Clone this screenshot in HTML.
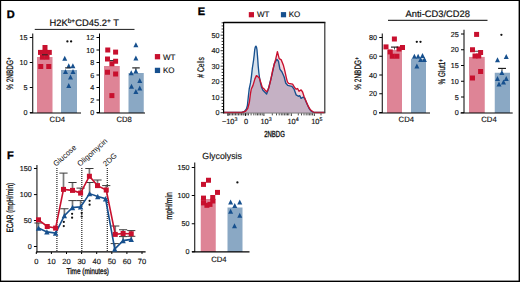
<!DOCTYPE html><html><head><meta charset="utf-8"><style>html,body{margin:0;padding:0;background:#fff;}svg{display:block;}text{font-family:"Liberation Sans", sans-serif;text-rendering:geometricPrecision;}</style></head><body>
<svg width="520" height="282" viewBox="0 0 520 282">
<rect x="0" y="0" width="520" height="282" fill="#fff"/>
<text x="6.8" y="18.1" font-size="11" text-anchor="start" font-weight="bold" fill="#000" stroke="#000" stroke-width="0.35">D</text>
<text x="49.5" y="26.4" font-size="9.4" text-anchor="start" font-weight="normal" fill="#111" stroke="#111" stroke-width="0.2">H2K<tspan font-size="6.5" dy="-3.3">b+</tspan><tspan dy="3.3">CD45.2</tspan><tspan font-size="6.5" dy="-3.3">+</tspan><tspan dy="3.3"> T</tspan></text>
<line x1="34.75" y1="29.4" x2="134.5" y2="29.4" stroke="#000" stroke-width="0.9" />
<rect x="37" y="57" width="15.5" height="56" fill="#de8496"/>
<rect x="61" y="70" width="16" height="43" fill="#8aa8c4"/>
<line x1="32.75" y1="33.5" x2="32.75" y2="113" stroke="#000" stroke-width="1" />
<line x1="29.75" y1="37.5" x2="32.75" y2="37.5" stroke="#000" stroke-width="1" />
<text x="27.55" y="40.0" font-size="7.2" text-anchor="end" font-weight="normal" fill="#111"  stroke="#111" stroke-width="0.15">15</text>
<line x1="29.75" y1="62.5" x2="32.75" y2="62.5" stroke="#000" stroke-width="1" />
<text x="27.55" y="65.0" font-size="7.2" text-anchor="end" font-weight="normal" fill="#111"  stroke="#111" stroke-width="0.15">10</text>
<line x1="29.75" y1="87.5" x2="32.75" y2="87.5" stroke="#000" stroke-width="1" />
<text x="27.55" y="90.0" font-size="7.2" text-anchor="end" font-weight="normal" fill="#111"  stroke="#111" stroke-width="0.15">5</text>
<line x1="29.75" y1="112.6" x2="32.75" y2="112.6" stroke="#000" stroke-width="1" />
<text x="27.55" y="115.1" font-size="7.2" text-anchor="end" font-weight="normal" fill="#111"  stroke="#111" stroke-width="0.15">0</text>
<line x1="30" y1="113" x2="81" y2="113" stroke="#000" stroke-width="1.2" />
<rect x="42.50" y="45.00" width="5" height="5" fill="#c8102e"/>
<rect x="38.00" y="49.90" width="5" height="5" fill="#c8102e"/>
<rect x="42.50" y="49.90" width="5" height="5" fill="#c8102e"/>
<rect x="46.80" y="49.90" width="5" height="5" fill="#c8102e"/>
<rect x="39.90" y="54.70" width="5" height="5" fill="#c8102e"/>
<rect x="44.50" y="54.70" width="5" height="5" fill="#c8102e"/>
<rect x="38.25" y="64.00" width="5" height="5" fill="#c8102e"/>
<rect x="46.25" y="64.00" width="5" height="5" fill="#c8102e"/>
<line x1="42" y1="54.8" x2="47.8" y2="54.8" stroke="#222" stroke-width="1" />
<path d="M64.75 55.70L67.25 60.70L62.25 60.70Z" fill="#17508e"/>
<path d="M68.75 63.30L71.25 68.30L66.25 68.30Z" fill="#17508e"/>
<path d="M72.90 63.30L75.40 68.30L70.40 68.30Z" fill="#17508e"/>
<path d="M65.50 69.10L68.00 74.10L63.00 74.10Z" fill="#17508e"/>
<path d="M73.00 69.10L75.50 74.10L70.50 74.10Z" fill="#17508e"/>
<path d="M70.50 74.50L73.00 79.50L68.00 79.50Z" fill="#17508e"/>
<path d="M68.75 83.10L71.25 88.10L66.25 88.10Z" fill="#17508e"/>
<line x1="65" y1="67.9" x2="70.5" y2="67.9" stroke="#222" stroke-width="1" />
<circle cx="67.4" cy="41.4" r="1.15" fill="#111"/>
<circle cx="71.1" cy="41.4" r="1.15" fill="#111"/>
<text x="57.3" y="122" font-size="7.7" text-anchor="middle" font-weight="normal" fill="#111"  stroke="#111" stroke-width="0.15">CD4</text>
<rect x="104" y="66" width="15.75" height="47" fill="#de8496"/>
<rect x="128.5" y="73" width="15.25" height="40" fill="#8aa8c4"/>
<line x1="99.5" y1="33.5" x2="99.5" y2="113" stroke="#000" stroke-width="1" />
<line x1="96.5" y1="37.5" x2="99.5" y2="37.5" stroke="#000" stroke-width="1" />
<text x="94.3" y="40.0" font-size="7.2" text-anchor="end" font-weight="normal" fill="#111"  stroke="#111" stroke-width="0.15">12</text>
<line x1="96.5" y1="50" x2="99.5" y2="50" stroke="#000" stroke-width="1" />
<text x="94.3" y="52.5" font-size="7.2" text-anchor="end" font-weight="normal" fill="#111"  stroke="#111" stroke-width="0.15">10</text>
<line x1="96.5" y1="62.5" x2="99.5" y2="62.5" stroke="#000" stroke-width="1" />
<text x="94.3" y="65.0" font-size="7.2" text-anchor="end" font-weight="normal" fill="#111"  stroke="#111" stroke-width="0.15">8</text>
<line x1="96.5" y1="75" x2="99.5" y2="75" stroke="#000" stroke-width="1" />
<text x="94.3" y="77.5" font-size="7.2" text-anchor="end" font-weight="normal" fill="#111"  stroke="#111" stroke-width="0.15">6</text>
<line x1="96.5" y1="87.5" x2="99.5" y2="87.5" stroke="#000" stroke-width="1" />
<text x="94.3" y="90.0" font-size="7.2" text-anchor="end" font-weight="normal" fill="#111"  stroke="#111" stroke-width="0.15">4</text>
<line x1="96.5" y1="100" x2="99.5" y2="100" stroke="#000" stroke-width="1" />
<text x="94.3" y="102.5" font-size="7.2" text-anchor="end" font-weight="normal" fill="#111"  stroke="#111" stroke-width="0.15">2</text>
<line x1="96.5" y1="112.5" x2="99.5" y2="112.5" stroke="#000" stroke-width="1" />
<text x="94.3" y="115.0" font-size="7.2" text-anchor="end" font-weight="normal" fill="#111"  stroke="#111" stroke-width="0.15">0</text>
<line x1="96.8" y1="113" x2="145" y2="113" stroke="#000" stroke-width="1.2" />
<rect x="105.25" y="47.50" width="5" height="5" fill="#c8102e"/>
<rect x="113.10" y="49.60" width="5" height="5" fill="#c8102e"/>
<rect x="105.00" y="56.50" width="5" height="5" fill="#c8102e"/>
<rect x="113.10" y="58.75" width="5" height="5" fill="#c8102e"/>
<rect x="109.40" y="61.25" width="5" height="5" fill="#c8102e"/>
<rect x="105.00" y="69.75" width="5" height="5" fill="#c8102e"/>
<rect x="113.10" y="71.50" width="5" height="5" fill="#c8102e"/>
<rect x="109.40" y="93.10" width="5" height="5" fill="#c8102e"/>
<line x1="110" y1="60.6" x2="113.5" y2="60.6" stroke="#222" stroke-width="1" />
<path d="M135.90 42.25L138.40 47.25L133.40 47.25Z" fill="#17508e"/>
<path d="M135.90 55.60L138.40 60.60L133.40 60.60Z" fill="#17508e"/>
<path d="M131.25 70.25L133.75 75.25L128.75 75.25Z" fill="#17508e"/>
<path d="M135.90 68.50L138.40 73.50L133.40 73.50Z" fill="#17508e"/>
<path d="M139.75 77.90L142.25 82.90L137.25 82.90Z" fill="#17508e"/>
<path d="M131.50 83.75L134.00 88.75L129.00 88.75Z" fill="#17508e"/>
<path d="M139.75 85.60L142.25 90.60L137.25 90.60Z" fill="#17508e"/>
<path d="M135.90 89.00L138.40 94.00L133.40 94.00Z" fill="#17508e"/>
<line x1="132.25" y1="67.9" x2="139.75" y2="67.9" stroke="#111" stroke-width="1.1" />
<line x1="135.9" y1="67.9" x2="135.9" y2="70" stroke="#222" stroke-width="0.8" />
<text x="124.2" y="122" font-size="7.7" text-anchor="middle" font-weight="normal" fill="#111"  stroke="#111" stroke-width="0.15">CD8</text>
<rect x="154.85" y="54.05" width="5.3" height="5.3" fill="#c8102e"/>
<text x="162.9" y="59.6" font-size="8" text-anchor="start" font-weight="normal" fill="#111"  stroke="#111" stroke-width="0.15">WT</text>
<rect x="154.85" y="67.75" width="5.3" height="5.3" fill="#17508e"/>
<text x="162.9" y="73.2" font-size="8" text-anchor="start" font-weight="normal" fill="#111"  stroke="#111" stroke-width="0.15">KO</text>
<text x="0" y="0" font-size="9.4" text-anchor="middle" font-weight="normal" fill="#111" stroke="#111" stroke-width="0.25" transform="translate(13.3 73.6) rotate(-90) scale(0.69 1)">% 2NBDG<tspan font-size="6.3" dy="-2.5">+</tspan></text>
<text x="197.8" y="15.4" font-size="11" text-anchor="start" font-weight="bold" fill="#000" stroke="#000" stroke-width="0.35">E</text>
<rect x="248.80" y="12.10" width="5.2" height="5.2" fill="#c8102e"/>
<text x="256.9" y="17.2" font-size="8" text-anchor="start" font-weight="normal" fill="#111"  stroke="#111" stroke-width="0.15">WT</text>
<rect x="280.90" y="12.10" width="5.2" height="5.2" fill="#17508e"/>
<text x="288.75" y="17.2" font-size="8" text-anchor="start" font-weight="normal" fill="#111"  stroke="#111" stroke-width="0.15">KO</text>
<path d="M223.75 112.40L241.40 112.30L244.30 111.60L246.40 109.00L247.40 105.50L248.30 97.00L249.20 89.00L250.50 82.90L251.50 75.90L252.30 68.50L253.60 60.00L254.20 55.00L254.70 50.00L255.30 47.00L255.90 46.10L256.50 47.00L257.00 50.00L257.40 55.00L257.80 60.00L258.20 66.00L258.90 73.00L259.50 77.50L260.40 82.50L261.60 87.30L262.90 90.30L264.90 92.30L266.60 94.00L268.10 90.00L270.10 82.00L272.20 73.80L274.30 63.60L276.80 59.30L278.50 61.30L279.90 69.10L282.00 72.00L284.20 77.00L285.70 83.00L287.70 85.40L291.90 86.30L294.10 89.20L296.20 94.90L298.30 96.30L299.70 95.60L301.10 98.40L303.30 97.00L304.70 98.40L306.80 103.40L309.00 108.30L311.10 111.20L313.90 112.30L324.60 112.40L324.6 113L223.75 113Z" fill="#d7e1ec"/>
<path d="M223.75 112.50L242.10 112.50L245.70 111.20L247.80 108.30L249.40 102.00L250.40 94.00L251.30 89.00L252.90 85.60L254.90 78.90L256.40 75.60L257.90 76.60L259.40 78.20L260.90 82.90L262.40 87.60L263.90 88.70L265.40 90.60L266.80 91.80L268.80 87.90L270.80 79.90L272.40 71.50L273.70 66.30L275.70 59.20L277.40 51.60L279.20 58.60L281.30 59.90L283.50 65.60L284.90 71.20L286.30 77.60L287.40 81.80L288.60 83.30L292.60 84.20L294.80 87.80L296.20 89.20L297.60 88.50L299.00 91.30L301.10 89.90L302.60 92.00L304.00 96.30L306.10 101.20L308.20 106.20L310.40 109.80L313.20 112.10L316.00 112.50L324.60 112.50L324.6 113L223.75 113Z" fill="#f3d6dd"/>
<path d="M223.75 112.50L224.00 112.50L224.25 112.50L224.50 112.50L224.75 112.50L225.00 112.50L225.25 112.50L225.50 112.50L225.75 112.50L226.00 112.50L226.25 112.50L226.50 112.50L226.75 112.50L227.00 112.50L227.25 112.50L227.50 112.50L227.75 112.50L228.00 112.50L228.25 112.50L228.50 112.50L228.75 112.50L229.00 112.50L229.25 112.50L229.50 112.50L229.75 112.50L230.00 112.50L230.25 112.50L230.50 112.50L230.75 112.50L231.00 112.50L231.25 112.50L231.50 112.50L231.75 112.50L232.00 112.50L232.25 112.50L232.50 112.50L232.75 112.50L233.00 112.50L233.25 112.50L233.50 112.50L233.75 112.50L234.00 112.50L234.25 112.50L234.50 112.50L234.75 112.50L235.00 112.50L235.25 112.50L235.50 112.50L235.75 112.50L236.00 112.50L236.25 112.50L236.50 112.50L236.75 112.50L237.00 112.50L237.25 112.50L237.50 112.50L237.75 112.50L238.00 112.50L238.25 112.50L238.50 112.50L238.75 112.50L239.00 112.50L239.25 112.50L239.50 112.50L239.75 112.50L240.00 112.50L240.25 112.50L240.50 112.50L240.75 112.50L241.00 112.50L241.25 112.50L241.40 112.50L241.50 112.50L241.75 112.50L242.00 112.50L242.10 112.50L242.25 112.45L242.50 112.36L242.75 112.27L243.00 112.17L243.25 112.08L243.50 111.99L243.75 111.90L244.00 111.81L244.25 111.72L244.30 111.71L244.50 111.63L244.75 111.54L245.00 111.45L245.25 111.36L245.50 111.27L245.70 111.20L245.75 111.13L246.00 110.79L246.25 110.44L246.40 110.23L246.50 110.10L246.75 109.75L247.00 109.40L247.25 109.06L247.40 108.85L247.50 108.71L247.75 108.37L247.80 108.30L248.00 107.51L248.25 106.53L248.30 106.33L248.50 105.54L248.75 104.56L249.00 103.58L249.20 102.79L249.25 102.59L249.40 102.00L249.50 101.20L249.75 99.20L250.00 97.20L250.25 95.20L250.40 94.00L250.50 93.44L250.75 92.06L251.00 90.67L251.25 89.28L251.30 89.00L251.50 88.58L251.75 88.04L252.00 87.51L252.25 86.98L252.30 86.87L252.50 86.45L252.75 85.92L252.90 85.60L253.00 85.27L253.25 84.43L253.50 83.59L253.60 83.26L253.75 82.75L254.00 81.92L254.20 81.25L254.25 81.08L254.50 80.24L254.70 79.57L254.75 79.40L254.90 78.90L255.00 78.68L255.25 78.13L255.30 78.02L255.50 77.58L255.75 77.03L255.90 76.70L256.00 76.48L256.25 75.93L256.40 75.60L256.50 75.67L256.75 75.83L257.00 76.00L257.25 76.17L257.40 76.27L257.50 76.33L257.75 76.50L257.80 76.53L257.90 76.60L258.00 76.71L258.20 76.92L258.25 76.97L258.50 77.24L258.75 77.51L258.90 77.67L259.00 77.77L259.25 78.04L259.40 78.20L259.50 78.51L259.75 79.30L260.00 80.28L260.25 81.67L260.40 82.50L260.50 82.90L260.75 83.90L260.90 84.50L261.00 84.90L261.25 85.90L261.50 86.90L261.60 87.30L261.75 87.65L262.00 88.22L262.25 88.80L262.40 89.15L262.50 89.38L262.75 89.95L262.90 90.30L263.00 90.40L263.25 90.65L263.50 90.90L263.75 91.15L263.90 91.30L264.00 91.40L264.25 91.65L264.50 91.90L264.75 92.15L264.90 92.30L265.00 92.40L265.25 92.65L265.40 92.80L265.50 92.90L265.75 93.15L266.00 93.40L266.25 93.65L266.50 93.90L266.60 94.00L266.75 93.60L266.80 93.47L267.00 92.93L267.25 92.27L267.50 91.60L267.75 90.93L268.00 90.27L268.10 90.00L268.25 89.40L268.50 88.49L268.75 88.00L268.80 87.90L269.00 87.10L269.25 86.10L269.50 85.10L269.75 84.10L270.00 83.10L270.10 82.70L270.25 82.10L270.50 81.10L270.75 80.10L270.80 79.90L271.00 78.85L271.25 77.54L271.50 76.53L271.75 75.56L272.00 74.58L272.20 73.80L272.25 73.56L272.40 72.83L272.50 72.34L272.75 71.13L273.00 69.91L273.25 68.70L273.50 67.49L273.70 66.51L273.75 66.27L274.00 65.23L274.25 64.35L274.30 64.17L274.50 63.46L274.75 62.83L275.00 62.40L275.25 61.97L275.50 61.54L275.70 61.19L275.75 61.11L276.00 60.68L276.25 60.25L276.50 59.82L276.75 59.39L276.80 59.30L277.00 59.54L277.25 59.83L277.40 60.01L277.50 60.12L277.75 60.42L278.00 60.71L278.25 61.01L278.50 61.30L278.75 62.69L279.00 64.09L279.20 65.20L279.25 65.48L279.50 66.87L279.75 68.26L279.90 69.10L280.00 69.24L280.25 69.58L280.50 69.93L280.75 70.27L281.00 70.62L281.25 70.96L281.30 71.03L281.50 71.31L281.75 71.65L282.00 72.00L282.25 72.57L282.50 73.14L282.75 73.70L283.00 74.27L283.25 74.84L283.50 75.41L283.75 75.98L284.00 76.55L284.20 77.00L284.25 77.20L284.50 78.20L284.75 79.20L284.90 79.80L285.00 80.20L285.25 81.20L285.50 82.20L285.70 83.00L285.75 83.06L286.00 83.36L286.25 83.66L286.30 83.72L286.50 83.96L286.75 84.26L287.00 84.56L287.25 84.86L287.40 85.04L287.50 85.16L287.70 85.40L287.75 85.41L288.00 85.46L288.25 85.52L288.50 85.57L288.60 85.59L288.75 85.62L289.00 85.68L289.25 85.73L289.50 85.79L289.75 85.84L290.00 85.89L290.25 85.95L290.50 86.00L290.75 86.05L291.00 86.11L291.25 86.16L291.50 86.21L291.75 86.27L291.90 86.30L292.00 86.43L292.25 86.76L292.50 87.09L292.60 87.22L292.75 87.42L293.00 87.75L293.25 88.08L293.50 88.41L293.75 88.74L294.00 89.07L294.10 89.20L294.25 89.61L294.50 90.29L294.75 90.96L294.80 91.10L295.00 91.64L295.25 92.32L295.50 93.00L295.75 93.68L296.00 94.36L296.20 94.90L296.25 94.93L296.50 95.10L296.75 95.27L297.00 95.43L297.25 95.60L297.50 95.77L297.60 95.83L297.75 95.93L298.00 96.10L298.25 96.27L298.30 96.30L298.50 96.20L298.75 96.08L299.00 95.95L299.25 95.82L299.50 95.70L299.70 95.60L299.75 95.70L300.00 96.20L300.25 96.70L300.50 97.20L300.75 97.70L301.00 98.20L301.10 98.40L301.25 98.30L301.50 98.15L301.75 97.99L302.00 97.83L302.25 97.67L302.50 97.51L302.60 97.45L302.75 97.35L303.00 97.19L303.25 97.03L303.30 97.00L303.50 97.20L303.75 97.45L304.00 97.70L304.25 97.95L304.50 98.20L304.70 98.40L304.75 98.52L305.00 99.11L305.25 99.71L305.50 100.30L305.75 100.90L306.00 101.50L306.10 101.73L306.25 102.09L306.50 102.69L306.75 103.28L306.80 103.40L307.00 103.85L307.25 104.40L307.50 104.96L307.75 105.52L308.00 106.07L308.20 106.52L308.25 106.63L308.50 107.19L308.75 107.74L309.00 108.30L309.25 108.65L309.50 108.99L309.75 109.34L310.00 109.68L310.25 110.03L310.40 110.23L310.50 110.37L310.75 110.72L311.00 111.06L311.10 111.20L311.25 111.26L311.50 111.36L311.75 111.46L312.00 111.55L312.25 111.65L312.50 111.75L312.75 111.85L313.00 111.95L313.20 112.10L313.25 112.11L313.50 112.14L313.75 112.24L313.90 112.30L314.00 112.30L314.25 112.30L314.50 112.31L314.75 112.32L315.00 112.36L315.25 112.39L315.50 112.43L315.75 112.46L316.00 112.50L316.25 112.50L316.50 112.50L316.75 112.50L317.00 112.50L317.25 112.50L317.50 112.50L317.75 112.50L318.00 112.50L318.25 112.50L318.50 112.50L318.75 112.50L319.00 112.50L319.25 112.50L319.50 112.50L319.75 112.50L320.00 112.50L320.25 112.50L320.50 112.50L320.75 112.50L321.00 112.50L321.25 112.50L321.50 112.50L321.75 112.50L322.00 112.50L322.25 112.50L322.50 112.50L322.75 112.50L323.00 112.50L323.25 112.50L323.50 112.50L323.75 112.50L324.00 112.50L324.25 112.50L324.50 112.50L324.60 112.50L324.6 113L223.75 113Z" fill="#c5b1c4"/>
<path d="M223.75 112.40L241.40 112.30L244.30 111.60L246.40 109.00L247.40 105.50L248.30 97.00L249.20 89.00L250.50 82.90L251.50 75.90L252.30 68.50L253.60 60.00L254.20 55.00L254.70 50.00L255.30 47.00L255.90 46.10L256.50 47.00L257.00 50.00L257.40 55.00L257.80 60.00L258.20 66.00L258.90 73.00L259.50 77.50L260.40 82.50L261.60 87.30L262.90 90.30L264.90 92.30L266.60 94.00L268.10 90.00L270.10 82.00L272.20 73.80L274.30 63.60L276.80 59.30L278.50 61.30L279.90 69.10L282.00 72.00L284.20 77.00L285.70 83.00L287.70 85.40L291.90 86.30L294.10 89.20L296.20 94.90L298.30 96.30L299.70 95.60L301.10 98.40L303.30 97.00L304.70 98.40L306.80 103.40L309.00 108.30L311.10 111.20L313.90 112.30L324.60 112.40" fill="none" stroke="#17508e" stroke-width="1.35" stroke-linejoin="round"/>
<path d="M223.75 112.50L242.10 112.50L245.70 111.20L247.80 108.30L249.40 102.00L250.40 94.00L251.30 89.00L252.90 85.60L254.90 78.90L256.40 75.60L257.90 76.60L259.40 78.20L260.90 82.90L262.40 87.60L263.90 88.70L265.40 90.60L266.80 91.80L268.80 87.90L270.80 79.90L272.40 71.50L273.70 66.30L275.70 59.20L277.40 51.60L279.20 58.60L281.30 59.90L283.50 65.60L284.90 71.20L286.30 77.60L287.40 81.80L288.60 83.30L292.60 84.20L294.80 87.80L296.20 89.20L297.60 88.50L299.00 91.30L301.10 89.90L302.60 92.00L304.00 96.30L306.10 101.20L308.20 106.20L310.40 109.80L313.20 112.10L316.00 112.50L324.60 112.50" fill="none" stroke="#c8102e" stroke-width="1.35" stroke-linejoin="round"/>
<line x1="223.5" y1="22.5" x2="325.4" y2="22.5" stroke="#000" stroke-width="1.3" />
<line x1="324.8" y1="22.5" x2="324.8" y2="113" stroke="#333" stroke-width="1.2" />
<line x1="223.6" y1="22" x2="223.6" y2="113.5" stroke="#000" stroke-width="1.2" />
<line x1="223.5" y1="113.1" x2="325.4" y2="113.1" stroke="#555" stroke-width="0.7" />
<line x1="220.6" y1="112.7" x2="223.6" y2="112.7" stroke="#000" stroke-width="0.8" />
<line x1="221.6" y1="109.60000000000001" x2="223.6" y2="109.60000000000001" stroke="#000" stroke-width="0.8" />
<line x1="221.6" y1="106.5" x2="223.6" y2="106.5" stroke="#000" stroke-width="0.8" />
<line x1="221.6" y1="103.4" x2="223.6" y2="103.4" stroke="#000" stroke-width="0.8" />
<line x1="221.6" y1="100.3" x2="223.6" y2="100.3" stroke="#000" stroke-width="0.8" />
<line x1="220.6" y1="97.2" x2="223.6" y2="97.2" stroke="#000" stroke-width="0.8" />
<line x1="221.6" y1="94.1" x2="223.6" y2="94.1" stroke="#000" stroke-width="0.8" />
<line x1="221.6" y1="91.0" x2="223.6" y2="91.0" stroke="#000" stroke-width="0.8" />
<line x1="221.6" y1="87.9" x2="223.6" y2="87.9" stroke="#000" stroke-width="0.8" />
<line x1="221.6" y1="84.8" x2="223.6" y2="84.8" stroke="#000" stroke-width="0.8" />
<line x1="220.6" y1="81.7" x2="223.6" y2="81.7" stroke="#000" stroke-width="0.8" />
<line x1="221.6" y1="78.6" x2="223.6" y2="78.6" stroke="#000" stroke-width="0.8" />
<line x1="221.6" y1="75.5" x2="223.6" y2="75.5" stroke="#000" stroke-width="0.8" />
<line x1="221.6" y1="72.4" x2="223.6" y2="72.4" stroke="#000" stroke-width="0.8" />
<line x1="221.6" y1="69.30000000000001" x2="223.6" y2="69.30000000000001" stroke="#000" stroke-width="0.8" />
<line x1="220.6" y1="66.2" x2="223.6" y2="66.2" stroke="#000" stroke-width="0.8" />
<line x1="221.6" y1="63.1" x2="223.6" y2="63.1" stroke="#000" stroke-width="0.8" />
<line x1="221.6" y1="60.0" x2="223.6" y2="60.0" stroke="#000" stroke-width="0.8" />
<line x1="221.6" y1="56.9" x2="223.6" y2="56.9" stroke="#000" stroke-width="0.8" />
<line x1="221.6" y1="53.800000000000004" x2="223.6" y2="53.800000000000004" stroke="#000" stroke-width="0.8" />
<line x1="220.6" y1="50.7" x2="223.6" y2="50.7" stroke="#000" stroke-width="0.8" />
<line x1="221.6" y1="47.599999999999994" x2="223.6" y2="47.599999999999994" stroke="#000" stroke-width="0.8" />
<line x1="221.6" y1="44.5" x2="223.6" y2="44.5" stroke="#000" stroke-width="0.8" />
<line x1="221.6" y1="41.400000000000006" x2="223.6" y2="41.400000000000006" stroke="#000" stroke-width="0.8" />
<line x1="221.6" y1="38.3" x2="223.6" y2="38.3" stroke="#000" stroke-width="0.8" />
<line x1="220.6" y1="35.2" x2="223.6" y2="35.2" stroke="#000" stroke-width="0.8" />
<line x1="221.6" y1="32.099999999999994" x2="223.6" y2="32.099999999999994" stroke="#000" stroke-width="0.8" />
<line x1="221.6" y1="29.0" x2="223.6" y2="29.0" stroke="#000" stroke-width="0.8" />
<line x1="221.6" y1="25.900000000000006" x2="223.6" y2="25.900000000000006" stroke="#000" stroke-width="0.8" />
<line x1="221.6" y1="22.799999999999997" x2="223.6" y2="22.799999999999997" stroke="#000" stroke-width="0.8" />
<text x="219.6" y="115.2" font-size="7.2" text-anchor="end" font-weight="normal" fill="#111"  stroke="#111" stroke-width="0.15">0</text>
<text x="219.6" y="99.7" font-size="7.2" text-anchor="end" font-weight="normal" fill="#111"  stroke="#111" stroke-width="0.15">10</text>
<text x="219.6" y="84.2" font-size="7.2" text-anchor="end" font-weight="normal" fill="#111"  stroke="#111" stroke-width="0.15">20</text>
<text x="219.6" y="68.7" font-size="7.2" text-anchor="end" font-weight="normal" fill="#111"  stroke="#111" stroke-width="0.15">30</text>
<text x="219.6" y="53.2" font-size="7.2" text-anchor="end" font-weight="normal" fill="#111"  stroke="#111" stroke-width="0.15">40</text>
<text x="219.6" y="37.7" font-size="7.2" text-anchor="end" font-weight="normal" fill="#111"  stroke="#111" stroke-width="0.15">50</text>
<line x1="228" y1="113.4" x2="228" y2="115.4" stroke="#000" stroke-width="0.7" />
<line x1="229.5" y1="113.4" x2="229.5" y2="115.4" stroke="#000" stroke-width="0.7" />
<line x1="231" y1="113.4" x2="231" y2="115.4" stroke="#000" stroke-width="0.7" />
<line x1="232.5" y1="113.4" x2="232.5" y2="115.4" stroke="#000" stroke-width="0.7" />
<line x1="234" y1="113.4" x2="234" y2="115.4" stroke="#000" stroke-width="0.7" />
<line x1="235.5" y1="113.4" x2="235.5" y2="115.4" stroke="#000" stroke-width="0.7" />
<line x1="237" y1="113.4" x2="237" y2="115.4" stroke="#000" stroke-width="0.7" />
<line x1="238.5" y1="113.4" x2="238.5" y2="115.4" stroke="#000" stroke-width="0.7" />
<line x1="240" y1="113.4" x2="240" y2="115.4" stroke="#000" stroke-width="0.7" />
<line x1="241.5" y1="113.4" x2="241.5" y2="115.4" stroke="#000" stroke-width="0.7" />
<line x1="243" y1="113.4" x2="243" y2="115.4" stroke="#000" stroke-width="0.7" />
<line x1="244" y1="113.4" x2="244" y2="115.4" stroke="#000" stroke-width="0.7" />
<line x1="245.5" y1="113.4" x2="245.5" y2="115.4" stroke="#000" stroke-width="0.7" />
<line x1="247" y1="113.4" x2="247" y2="115.4" stroke="#000" stroke-width="0.7" />
<line x1="248.5" y1="113.4" x2="248.5" y2="115.4" stroke="#000" stroke-width="0.7" />
<line x1="251.1" y1="113.4" x2="251.1" y2="115.4" stroke="#000" stroke-width="0.7" />
<line x1="253.8" y1="113.4" x2="253.8" y2="115.4" stroke="#000" stroke-width="0.7" />
<line x1="255.9" y1="113.4" x2="255.9" y2="115.4" stroke="#000" stroke-width="0.7" />
<line x1="257.5" y1="113.4" x2="257.5" y2="115.4" stroke="#000" stroke-width="0.7" />
<line x1="259" y1="113.4" x2="259" y2="115.4" stroke="#000" stroke-width="0.7" />
<line x1="260.6" y1="113.4" x2="260.6" y2="115.4" stroke="#000" stroke-width="0.7" />
<line x1="262.2" y1="113.4" x2="262.2" y2="115.4" stroke="#000" stroke-width="0.7" />
<line x1="272.3" y1="113.4" x2="272.3" y2="115.4" stroke="#000" stroke-width="0.7" />
<line x1="276.5" y1="113.4" x2="276.5" y2="115.4" stroke="#000" stroke-width="0.7" />
<line x1="279.2" y1="113.4" x2="279.2" y2="115.4" stroke="#000" stroke-width="0.7" />
<line x1="281.3" y1="113.4" x2="281.3" y2="115.4" stroke="#000" stroke-width="0.7" />
<line x1="282.9" y1="113.4" x2="282.9" y2="115.4" stroke="#000" stroke-width="0.7" />
<line x1="284.6" y1="113.4" x2="284.6" y2="115.4" stroke="#000" stroke-width="0.7" />
<line x1="286.1" y1="113.4" x2="286.1" y2="115.4" stroke="#000" stroke-width="0.7" />
<line x1="287.5" y1="113.4" x2="287.5" y2="115.4" stroke="#000" stroke-width="0.7" />
<line x1="288.8" y1="113.4" x2="288.8" y2="115.4" stroke="#000" stroke-width="0.7" />
<line x1="298.3" y1="113.4" x2="298.3" y2="115.4" stroke="#000" stroke-width="0.7" />
<line x1="301.5" y1="113.4" x2="301.5" y2="115.4" stroke="#000" stroke-width="0.7" />
<line x1="304" y1="113.4" x2="304" y2="115.4" stroke="#000" stroke-width="0.7" />
<line x1="306.2" y1="113.4" x2="306.2" y2="115.4" stroke="#000" stroke-width="0.7" />
<line x1="308" y1="113.4" x2="308" y2="115.4" stroke="#000" stroke-width="0.7" />
<line x1="309.6" y1="113.4" x2="309.6" y2="115.4" stroke="#000" stroke-width="0.7" />
<line x1="311" y1="113.4" x2="311" y2="115.4" stroke="#000" stroke-width="0.7" />
<line x1="312.5" y1="113.4" x2="312.5" y2="115.4" stroke="#000" stroke-width="0.7" />
<line x1="321" y1="113.4" x2="321" y2="115.4" stroke="#000" stroke-width="0.7" />
<line x1="228" y1="113.4" x2="228" y2="116" stroke="#000" stroke-width="0.8" />
<line x1="245.5" y1="113.4" x2="245.5" y2="116" stroke="#000" stroke-width="0.8" />
<line x1="263.9" y1="113.4" x2="263.9" y2="116" stroke="#000" stroke-width="0.8" />
<line x1="291.3" y1="113.4" x2="291.3" y2="116" stroke="#000" stroke-width="0.8" />
<line x1="314.3" y1="113.4" x2="314.3" y2="116" stroke="#000" stroke-width="0.8" />
<text x="221.9" y="124.4" font-size="7.4" text-anchor="start" font-weight="normal" fill="#111"  stroke="#111" stroke-width="0.15">−10<tspan font-size="5.3" dy="-3.3">3</tspan></text>
<text x="244.1" y="124.4" font-size="7.4" text-anchor="start" font-weight="normal" fill="#111"  stroke="#111" stroke-width="0.15">0</text>
<text x="260.5" y="124.4" font-size="7.4" text-anchor="start" font-weight="normal" fill="#111"  stroke="#111" stroke-width="0.15">10<tspan font-size="5.3" dy="-3.3">3</tspan></text>
<text x="287.4" y="124.4" font-size="7.4" text-anchor="start" font-weight="normal" fill="#111"  stroke="#111" stroke-width="0.15">10<tspan font-size="5.3" dy="-3.3">4</tspan></text>
<text x="311.2" y="124.4" font-size="7.4" text-anchor="start" font-weight="normal" fill="#111"  stroke="#111" stroke-width="0.15">10<tspan font-size="5.3" dy="-3.3">5</tspan></text>
<text x="0" y="0" font-size="8.8" text-anchor="middle" font-weight="normal" fill="#111" stroke="#111" stroke-width="0.35" transform="translate(274.5 137.3) rotate(0) scale(0.68 1)">2NBDG</text>
<text x="0" y="0" font-size="9.5" text-anchor="middle" font-weight="normal" fill="#111" stroke="#111" stroke-width="0.2" transform="translate(204.1 67.4) rotate(-90) scale(0.71 1)"># Cells</text>
<text x="437.75" y="16.9" font-size="9.35" text-anchor="middle" font-weight="normal" fill="#111" stroke="#111" stroke-width="0.2">Anti-CD3/CD28</text>
<line x1="388" y1="20.3" x2="487.5" y2="20.3" stroke="#000" stroke-width="1" />
<rect x="387" y="50" width="15" height="63" fill="#de8496"/>
<rect x="411" y="58.75" width="15" height="54.25" fill="#8aa8c4"/>
<line x1="382.25" y1="33.5" x2="382.25" y2="113" stroke="#000" stroke-width="1" />
<line x1="379.25" y1="37.5" x2="382.25" y2="37.5" stroke="#000" stroke-width="1" />
<text x="377.05" y="40.0" font-size="7.2" text-anchor="end" font-weight="normal" fill="#111"  stroke="#111" stroke-width="0.15">80</text>
<line x1="379.25" y1="56.25" x2="382.25" y2="56.25" stroke="#000" stroke-width="1" />
<text x="377.05" y="58.75" font-size="7.2" text-anchor="end" font-weight="normal" fill="#111"  stroke="#111" stroke-width="0.15">60</text>
<line x1="379.25" y1="75" x2="382.25" y2="75" stroke="#000" stroke-width="1" />
<text x="377.05" y="77.5" font-size="7.2" text-anchor="end" font-weight="normal" fill="#111"  stroke="#111" stroke-width="0.15">40</text>
<line x1="379.25" y1="93.75" x2="382.25" y2="93.75" stroke="#000" stroke-width="1" />
<text x="377.05" y="96.25" font-size="7.2" text-anchor="end" font-weight="normal" fill="#111"  stroke="#111" stroke-width="0.15">20</text>
<line x1="379.25" y1="112.5" x2="382.25" y2="112.5" stroke="#000" stroke-width="1" />
<text x="377.05" y="115.0" font-size="7.2" text-anchor="end" font-weight="normal" fill="#111"  stroke="#111" stroke-width="0.15">0</text>
<line x1="379" y1="113" x2="430" y2="113" stroke="#000" stroke-width="1.2" />
<rect x="391.90" y="36.50" width="5" height="5" fill="#c8102e"/>
<rect x="383.50" y="44.40" width="5" height="5" fill="#c8102e"/>
<rect x="387.75" y="49.40" width="5" height="5" fill="#c8102e"/>
<rect x="400.00" y="45.00" width="5" height="5" fill="#c8102e"/>
<rect x="396.50" y="46.50" width="5" height="5" fill="#c8102e"/>
<rect x="389.75" y="53.75" width="5" height="5" fill="#c8102e"/>
<rect x="394.40" y="53.75" width="5" height="5" fill="#c8102e"/>
<line x1="391" y1="47.1" x2="398.1" y2="47.1" stroke="#111" stroke-width="1.1" />
<line x1="394.5" y1="47.1" x2="394.5" y2="49.5" stroke="#222" stroke-width="0.8" />
<path d="M414.40 53.75L416.90 58.75L411.90 58.75Z" fill="#17508e"/>
<path d="M418.10 53.75L420.60 58.75L415.60 58.75Z" fill="#17508e"/>
<path d="M422.50 53.10L425.00 58.10L420.00 58.10Z" fill="#17508e"/>
<path d="M420.60 56.90L423.10 61.90L418.10 61.90Z" fill="#17508e"/>
<path d="M424.40 56.90L426.90 61.90L421.90 61.90Z" fill="#17508e"/>
<path d="M416.90 63.50L419.40 68.50L414.40 68.50Z" fill="#17508e"/>
<circle cx="416.8" cy="41.8" r="1.15" fill="#111"/>
<circle cx="420.5" cy="41.8" r="1.15" fill="#111"/>
<text x="406.3" y="122" font-size="7.7" text-anchor="middle" font-weight="normal" fill="#111"  stroke="#111" stroke-width="0.15">CD4</text>
<text x="0" y="0" font-size="9.4" text-anchor="middle" font-weight="normal" fill="#111" stroke="#111" stroke-width="0.25" transform="translate(361.1 73.5) rotate(-90) scale(0.69 1)">% 2NBDG<tspan font-size="6.3" dy="-2.5">+</tspan></text>
<rect x="469" y="56.9" width="15.75" height="56.1" fill="#de8496"/>
<rect x="494.75" y="72.75" width="15.25" height="40.25" fill="#8aa8c4"/>
<line x1="464" y1="29.75" x2="464" y2="113" stroke="#000" stroke-width="1" />
<line x1="461" y1="34" x2="464" y2="34" stroke="#000" stroke-width="1" />
<text x="458.8" y="36.5" font-size="7.2" text-anchor="end" font-weight="normal" fill="#111"  stroke="#111" stroke-width="0.15">25</text>
<line x1="461" y1="49.75" x2="464" y2="49.75" stroke="#000" stroke-width="1" />
<text x="458.8" y="52.25" font-size="7.2" text-anchor="end" font-weight="normal" fill="#111"  stroke="#111" stroke-width="0.15">20</text>
<line x1="461" y1="65.5" x2="464" y2="65.5" stroke="#000" stroke-width="1" />
<text x="458.8" y="68.0" font-size="7.2" text-anchor="end" font-weight="normal" fill="#111"  stroke="#111" stroke-width="0.15">15</text>
<line x1="461" y1="81.25" x2="464" y2="81.25" stroke="#000" stroke-width="1" />
<text x="458.8" y="83.75" font-size="7.2" text-anchor="end" font-weight="normal" fill="#111"  stroke="#111" stroke-width="0.15">10</text>
<line x1="461" y1="97" x2="464" y2="97" stroke="#000" stroke-width="1" />
<text x="458.8" y="99.5" font-size="7.2" text-anchor="end" font-weight="normal" fill="#111"  stroke="#111" stroke-width="0.15">5</text>
<line x1="461" y1="112.75" x2="464" y2="112.75" stroke="#000" stroke-width="1" />
<text x="458.8" y="115.25" font-size="7.2" text-anchor="end" font-weight="normal" fill="#111"  stroke="#111" stroke-width="0.15">0</text>
<line x1="460.5" y1="113" x2="512.7" y2="113" stroke="#000" stroke-width="1.2" />
<rect x="474.10" y="31.90" width="5" height="5" fill="#c8102e"/>
<rect x="470.00" y="47.25" width="5" height="5" fill="#c8102e"/>
<rect x="478.10" y="50.00" width="5" height="5" fill="#c8102e"/>
<rect x="472.50" y="53.50" width="5" height="5" fill="#c8102e"/>
<rect x="476.25" y="53.50" width="5" height="5" fill="#c8102e"/>
<rect x="478.10" y="69.00" width="5" height="5" fill="#c8102e"/>
<rect x="470.00" y="75.50" width="5" height="5" fill="#c8102e"/>
<line x1="475" y1="51.25" x2="478.5" y2="51.25" stroke="#222" stroke-width="0.8" />
<path d="M497.50 57.25L500.00 62.25L495.00 62.25Z" fill="#17508e"/>
<path d="M506.25 54.00L508.75 59.00L503.75 59.00Z" fill="#17508e"/>
<path d="M501.90 70.00L504.40 75.00L499.40 75.00Z" fill="#17508e"/>
<path d="M497.50 76.00L500.00 81.00L495.00 81.00Z" fill="#17508e"/>
<path d="M506.25 76.00L508.75 81.00L503.75 81.00Z" fill="#17508e"/>
<path d="M503.50 79.40L506.00 84.40L501.00 84.40Z" fill="#17508e"/>
<path d="M499.00 81.50L501.50 86.50L496.50 86.50Z" fill="#17508e"/>
<line x1="498.1" y1="68.4" x2="506" y2="68.4" stroke="#111" stroke-width="1.1" />
<line x1="502" y1="68.4" x2="502" y2="71" stroke="#222" stroke-width="0.8" />
<circle cx="501.4" cy="34.8" r="1.15" fill="#111"/>
<text x="489" y="122" font-size="7.7" text-anchor="middle" font-weight="normal" fill="#111"  stroke="#111" stroke-width="0.15">CD4</text>
<text x="0" y="0" font-size="9.6" text-anchor="middle" font-weight="normal" fill="#111" stroke="#111" stroke-width="0.25" transform="translate(445.0 71.8) rotate(-90) scale(0.665 1)">% Glut1<tspan font-size="6.5" dy="-2.1">+</tspan></text>
<text x="7" y="158.8" font-size="11" text-anchor="start" font-weight="bold" fill="#000" stroke="#000" stroke-width="0.35">F</text>
<line x1="56.9" y1="168" x2="56.9" y2="251" stroke="#333" stroke-width="1.3" stroke-dasharray="1 1"/>
<line x1="81.8" y1="168" x2="81.8" y2="251" stroke="#333" stroke-width="1.3" stroke-dasharray="1 1"/>
<line x1="107.3" y1="168" x2="107.3" y2="251" stroke="#333" stroke-width="1.3" stroke-dasharray="1 1"/>
<text x="0" y="0" font-size="7.6" transform="translate(56.1 166.8) rotate(-42)" fill="#111">Glucose</text>
<text x="0" y="0" font-size="7.6" transform="translate(80.1 166.8) rotate(-42)" fill="#111">Oligomycin</text>
<text x="0" y="0" font-size="7.6" transform="translate(105.8 166.8) rotate(-42)" fill="#111">2DG</text>
<line x1="36.95" y1="165" x2="36.95" y2="252.5" stroke="#000" stroke-width="1" />
<line x1="33.95" y1="168.5" x2="36.95" y2="168.5" stroke="#000" stroke-width="1" />
<text x="31.750000000000004" y="171.0" font-size="7.2" text-anchor="end" font-weight="normal" fill="#111"  stroke="#111" stroke-width="0.15">150</text>
<line x1="33.95" y1="194.6" x2="36.95" y2="194.6" stroke="#000" stroke-width="1" />
<text x="31.750000000000004" y="197.1" font-size="7.2" text-anchor="end" font-weight="normal" fill="#111"  stroke="#111" stroke-width="0.15">100</text>
<line x1="33.95" y1="220.5" x2="36.95" y2="220.5" stroke="#000" stroke-width="1" />
<text x="31.750000000000004" y="223.0" font-size="7.2" text-anchor="end" font-weight="normal" fill="#111"  stroke="#111" stroke-width="0.15">50</text>
<line x1="33.95" y1="246.5" x2="36.95" y2="246.5" stroke="#000" stroke-width="1" />
<text x="31.750000000000004" y="249.0" font-size="7.2" text-anchor="end" font-weight="normal" fill="#111"  stroke="#111" stroke-width="0.15">0</text>
<line x1="36.4" y1="251.9" x2="145.6" y2="251.9" stroke="#000" stroke-width="1.3" />
<line x1="36.3" y1="251.9" x2="36.3" y2="254" stroke="#000" stroke-width="1" />
<text x="36.3" y="263.5" font-size="7.5" text-anchor="middle" font-weight="normal" fill="#111"  stroke="#111" stroke-width="0.15">0</text>
<line x1="51.4" y1="251.9" x2="51.4" y2="254" stroke="#000" stroke-width="1" />
<text x="51.4" y="263.5" font-size="7.5" text-anchor="middle" font-weight="normal" fill="#111"  stroke="#111" stroke-width="0.15">10</text>
<line x1="66.5" y1="251.9" x2="66.5" y2="254" stroke="#000" stroke-width="1" />
<text x="66.5" y="263.5" font-size="7.5" text-anchor="middle" font-weight="normal" fill="#111"  stroke="#111" stroke-width="0.15">20</text>
<line x1="81.6" y1="251.9" x2="81.6" y2="254" stroke="#000" stroke-width="1" />
<text x="81.6" y="263.5" font-size="7.5" text-anchor="middle" font-weight="normal" fill="#111"  stroke="#111" stroke-width="0.15">30</text>
<line x1="96.69999999999999" y1="251.9" x2="96.69999999999999" y2="254" stroke="#000" stroke-width="1" />
<text x="96.69999999999999" y="263.5" font-size="7.5" text-anchor="middle" font-weight="normal" fill="#111"  stroke="#111" stroke-width="0.15">40</text>
<line x1="111.8" y1="251.9" x2="111.8" y2="254" stroke="#000" stroke-width="1" />
<text x="111.8" y="263.5" font-size="7.5" text-anchor="middle" font-weight="normal" fill="#111"  stroke="#111" stroke-width="0.15">50</text>
<line x1="126.89999999999999" y1="251.9" x2="126.89999999999999" y2="254" stroke="#000" stroke-width="1" />
<text x="126.89999999999999" y="263.5" font-size="7.5" text-anchor="middle" font-weight="normal" fill="#111"  stroke="#111" stroke-width="0.15">60</text>
<line x1="142.0" y1="251.9" x2="142.0" y2="254" stroke="#000" stroke-width="1" />
<text x="142.0" y="263.5" font-size="7.5" text-anchor="middle" font-weight="normal" fill="#111"  stroke="#111" stroke-width="0.15">70</text>
<text x="0" y="0" font-size="8.4" text-anchor="middle" font-weight="normal" fill="#111" stroke="#111" stroke-width="0.35" transform="translate(87.75 273.6) rotate(0) scale(0.765 1)">Time (minutes)</text>
<text x="0" y="0" font-size="9.2" text-anchor="middle" font-weight="normal" fill="#111" stroke="#111" stroke-width="0.3" transform="translate(13.4 207.7) rotate(-90) scale(0.7 1)">ECAR (mpH/min)</text>
<line x1="63.5" y1="173.1" x2="63.5" y2="189.4" stroke="#7a7a7a" stroke-width="1.7" />
<line x1="59.4" y1="173.1" x2="67.6" y2="173.1" stroke="#3a3a3a" stroke-width="1" />
<line x1="72.5" y1="182.5" x2="72.5" y2="190.4" stroke="#7a7a7a" stroke-width="1.7" />
<line x1="68.4" y1="182.5" x2="76.6" y2="182.5" stroke="#3a3a3a" stroke-width="1" />
<line x1="80.6" y1="188.1" x2="80.6" y2="193.1" stroke="#7a7a7a" stroke-width="1.7" />
<line x1="76.5" y1="188.1" x2="84.69999999999999" y2="188.1" stroke="#3a3a3a" stroke-width="1" />
<line x1="89.4" y1="168.5" x2="89.4" y2="176.25" stroke="#7a7a7a" stroke-width="1.7" />
<line x1="85.30000000000001" y1="168.5" x2="93.5" y2="168.5" stroke="#3a3a3a" stroke-width="1" />
<line x1="97.5" y1="180" x2="97.5" y2="185.6" stroke="#7a7a7a" stroke-width="1.7" />
<line x1="93.4" y1="180" x2="101.6" y2="180" stroke="#3a3a3a" stroke-width="1" />
<line x1="106.25" y1="185.6" x2="106.25" y2="190" stroke="#7a7a7a" stroke-width="1.7" />
<line x1="102.15" y1="185.6" x2="110.35" y2="185.6" stroke="#3a3a3a" stroke-width="1" />
<line x1="115.25" y1="226" x2="115.25" y2="234.4" stroke="#7a7a7a" stroke-width="1.7" />
<line x1="111.15" y1="226" x2="119.35" y2="226" stroke="#3a3a3a" stroke-width="1" />
<line x1="123.1" y1="229.75" x2="123.1" y2="233.5" stroke="#7a7a7a" stroke-width="1.7" />
<line x1="119.0" y1="229.75" x2="127.19999999999999" y2="229.75" stroke="#3a3a3a" stroke-width="1" />
<line x1="131.25" y1="230.6" x2="131.25" y2="233.75" stroke="#7a7a7a" stroke-width="1.7" />
<line x1="127.15" y1="230.6" x2="135.35" y2="230.6" stroke="#3a3a3a" stroke-width="1" />
<line x1="38.5" y1="223" x2="38.5" y2="228.1" stroke="#7a7a7a" stroke-width="1.7" />
<line x1="34.4" y1="223" x2="42.6" y2="223" stroke="#3a3a3a" stroke-width="1" />
<line x1="64.4" y1="208.75" x2="64.4" y2="215.6" stroke="#7a7a7a" stroke-width="1.7" />
<line x1="60.300000000000004" y1="208.75" x2="68.5" y2="208.75" stroke="#3a3a3a" stroke-width="1" />
<line x1="72.5" y1="200.6" x2="72.5" y2="207.5" stroke="#7a7a7a" stroke-width="1.7" />
<line x1="68.4" y1="200.6" x2="76.6" y2="200.6" stroke="#3a3a3a" stroke-width="1" />
<line x1="80.6" y1="200.6" x2="80.6" y2="206.9" stroke="#7a7a7a" stroke-width="1.7" />
<line x1="76.5" y1="200.6" x2="84.69999999999999" y2="200.6" stroke="#3a3a3a" stroke-width="1" />
<line x1="89.6" y1="182.5" x2="89.6" y2="193.6" stroke="#7a7a7a" stroke-width="1.7" />
<line x1="85.5" y1="182.5" x2="93.69999999999999" y2="182.5" stroke="#3a3a3a" stroke-width="1" />
<line x1="114.75" y1="243.6" x2="114.75" y2="249" stroke="#7a7a7a" stroke-width="1.7" />
<line x1="110.65" y1="243.6" x2="118.85" y2="243.6" stroke="#3a3a3a" stroke-width="1" />
<line x1="123.1" y1="236.6" x2="123.1" y2="240.6" stroke="#7a7a7a" stroke-width="1.7" />
<line x1="119.0" y1="236.6" x2="127.19999999999999" y2="236.6" stroke="#3a3a3a" stroke-width="1" />
<line x1="131.25" y1="236.3" x2="131.25" y2="239.4" stroke="#7a7a7a" stroke-width="1.7" />
<line x1="127.15" y1="236.3" x2="135.35" y2="236.3" stroke="#3a3a3a" stroke-width="1" />
<path d="M38.50 228.10L46.90 231.90L55.60 233.10L64.40 215.60L72.50 207.50L80.60 206.90L89.60 193.60L97.75 196.50L105.60 198.75L114.75 249.00L123.10 240.60L131.25 239.40" fill="none" stroke="#17508e" stroke-width="1.6"/>
<path d="M38.50 219.80L47.25 226.50L55.60 228.10L63.50 189.40L72.50 190.40L80.60 193.10L89.40 176.25L97.50 185.60L106.25 190.00L115.25 234.40L123.10 233.50L131.25 233.75" fill="none" stroke="#c8102e" stroke-width="1.6"/>
<path d="M38.50 225.40L41.20 230.80L35.80 230.80Z" fill="#17508e"/>
<path d="M46.90 229.20L49.60 234.60L44.20 234.60Z" fill="#17508e"/>
<path d="M55.60 230.40L58.30 235.80L52.90 235.80Z" fill="#17508e"/>
<path d="M64.40 212.90L67.10 218.30L61.70 218.30Z" fill="#17508e"/>
<path d="M72.50 204.80L75.20 210.20L69.80 210.20Z" fill="#17508e"/>
<path d="M80.60 204.20L83.30 209.60L77.90 209.60Z" fill="#17508e"/>
<path d="M89.60 190.90L92.30 196.30L86.90 196.30Z" fill="#17508e"/>
<path d="M97.75 193.80L100.45 199.20L95.05 199.20Z" fill="#17508e"/>
<path d="M105.60 196.05L108.30 201.45L102.90 201.45Z" fill="#17508e"/>
<path d="M114.75 246.30L117.45 251.70L112.05 251.70Z" fill="#17508e"/>
<path d="M123.10 237.90L125.80 243.30L120.40 243.30Z" fill="#17508e"/>
<path d="M131.25 236.70L133.95 242.10L128.55 242.10Z" fill="#17508e"/>
<rect x="36.00" y="217.30" width="5" height="5" fill="#c8102e"/>
<rect x="44.75" y="224.00" width="5" height="5" fill="#c8102e"/>
<rect x="53.10" y="225.60" width="5" height="5" fill="#c8102e"/>
<rect x="61.00" y="186.90" width="5" height="5" fill="#c8102e"/>
<rect x="70.00" y="187.90" width="5" height="5" fill="#c8102e"/>
<rect x="78.10" y="190.60" width="5" height="5" fill="#c8102e"/>
<rect x="86.90" y="173.75" width="5" height="5" fill="#c8102e"/>
<rect x="95.00" y="183.10" width="5" height="5" fill="#c8102e"/>
<rect x="103.75" y="187.50" width="5" height="5" fill="#c8102e"/>
<rect x="112.75" y="231.90" width="5" height="5" fill="#c8102e"/>
<rect x="120.60" y="231.00" width="5" height="5" fill="#c8102e"/>
<rect x="128.75" y="231.25" width="5" height="5" fill="#c8102e"/>
<circle cx="63.8" cy="221.9" r="1.1" fill="#111"/>
<circle cx="63.8" cy="226.1" r="1.1" fill="#111"/>
<circle cx="72.1" cy="213.8" r="1.1" fill="#111"/>
<circle cx="72.1" cy="217.7" r="1.1" fill="#111"/>
<circle cx="81.7" cy="212.9" r="1.1" fill="#111"/>
<circle cx="81.7" cy="216.5" r="1.1" fill="#111"/>
<circle cx="89.6" cy="200.8" r="1.1" fill="#111"/>
<circle cx="89.6" cy="204.7" r="1.1" fill="#111"/>
<text x="222.1" y="159.1" font-size="8.8" text-anchor="middle" font-weight="normal" fill="#111"  stroke="#111" stroke-width="0.15">Glycolysis</text>
<rect x="200.75" y="199" width="15.0" height="53" fill="#de8496"/>
<rect x="227.5" y="207.5" width="15.0" height="44.5" fill="#8aa8c4"/>
<line x1="194.75" y1="162.5" x2="194.75" y2="252" stroke="#000" stroke-width="1" />
<line x1="191.75" y1="167.5" x2="194.75" y2="167.5" stroke="#000" stroke-width="1" />
<text x="189.55" y="170.0" font-size="7.2" text-anchor="end" font-weight="normal" fill="#111"  stroke="#111" stroke-width="0.15">150</text>
<line x1="191.75" y1="195.5" x2="194.75" y2="195.5" stroke="#000" stroke-width="1" />
<text x="189.55" y="198.0" font-size="7.2" text-anchor="end" font-weight="normal" fill="#111"  stroke="#111" stroke-width="0.15">100</text>
<line x1="191.75" y1="223.75" x2="194.75" y2="223.75" stroke="#000" stroke-width="1" />
<text x="189.55" y="226.25" font-size="7.2" text-anchor="end" font-weight="normal" fill="#111"  stroke="#111" stroke-width="0.15">50</text>
<line x1="191.75" y1="251.75" x2="194.75" y2="251.75" stroke="#000" stroke-width="1" />
<text x="189.55" y="254.25" font-size="7.2" text-anchor="end" font-weight="normal" fill="#111"  stroke="#111" stroke-width="0.15">0</text>
<line x1="192" y1="251.9" x2="249.5" y2="251.9" stroke="#000" stroke-width="1.2" />
<rect x="201.00" y="181.90" width="5" height="5" fill="#c8102e"/>
<rect x="206.00" y="177.75" width="5" height="5" fill="#c8102e"/>
<rect x="215.00" y="189.90" width="5" height="5" fill="#c8102e"/>
<rect x="201.00" y="195.60" width="5" height="5" fill="#c8102e"/>
<rect x="210.25" y="195.00" width="5" height="5" fill="#c8102e"/>
<rect x="201.00" y="200.40" width="5" height="5" fill="#c8102e"/>
<rect x="204.40" y="202.80" width="5" height="5" fill="#c8102e"/>
<rect x="207.50" y="201.90" width="5" height="5" fill="#c8102e"/>
<rect x="210.25" y="198.50" width="5" height="5" fill="#c8102e"/>
<path d="M230.60 199.40L233.10 204.40L228.10 204.40Z" fill="#17508e"/>
<path d="M239.75 199.40L242.25 204.40L237.25 204.40Z" fill="#17508e"/>
<path d="M234.75 203.10L237.25 208.10L232.25 208.10Z" fill="#17508e"/>
<path d="M230.60 208.75L233.10 213.75L228.10 213.75Z" fill="#17508e"/>
<path d="M239.75 212.75L242.25 217.75L237.25 217.75Z" fill="#17508e"/>
<path d="M234.50 223.25L237.00 228.25L232.00 228.25Z" fill="#17508e"/>
<circle cx="237.4" cy="182.4" r="1.15" fill="#111"/>
<text x="218.9" y="262" font-size="7.7" text-anchor="middle" font-weight="normal" fill="#111"  stroke="#111" stroke-width="0.15">CD4</text>
<text x="0" y="0" font-size="9.2" text-anchor="middle" font-weight="normal" fill="#111" stroke="#111" stroke-width="0.3" transform="translate(171.8 205.9) rotate(-90) scale(0.74 1)">mpH/min</text>
<rect x="0" y="0" width="1.15" height="282" fill="#000"/><rect x="0" y="0" width="520" height="1" fill="#000"/><rect x="518.6" y="0" width="1.4" height="282" fill="#000"/><rect x="0" y="280.6" width="520" height="1.4" fill="#000"/>
</svg></body></html>
